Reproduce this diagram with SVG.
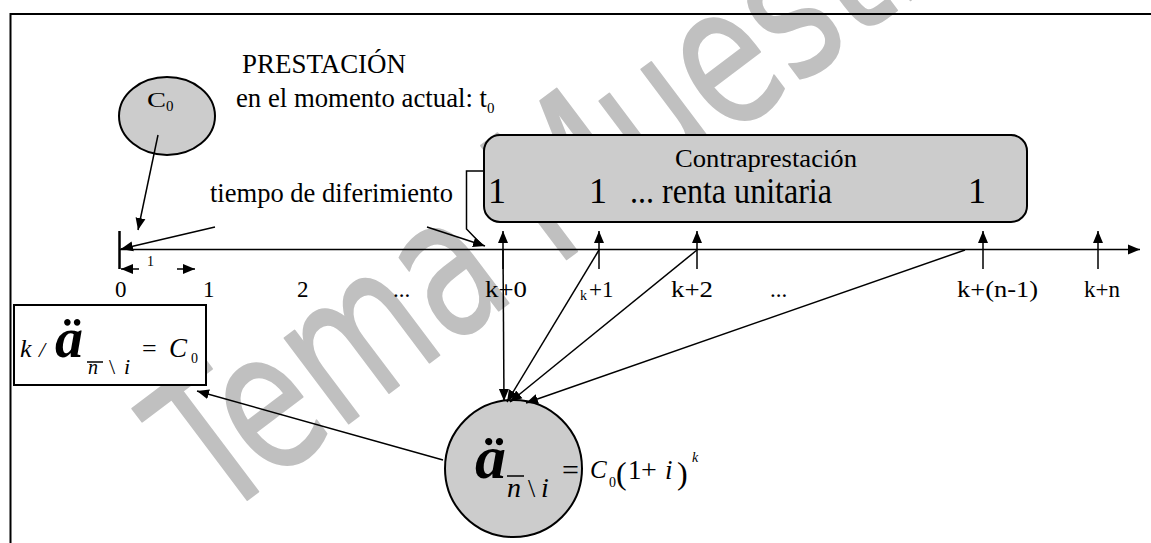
<svg xmlns="http://www.w3.org/2000/svg" width="1151" height="543" viewBox="0 0 1151 543">
<style>
.t{font-family:"Liberation Serif","Times New Roman",serif;fill:#000}
.it{font-family:"Liberation Serif","Times New Roman",serif;font-style:italic;fill:#000}
.bi{font-family:"Liberation Serif","Times New Roman",serif;font-style:italic;font-weight:bold;fill:#000}
.ln{stroke:#000;stroke-width:1.5;fill:none}
.ar{stroke:#000;stroke-width:1.5;fill:none;marker-end:url(#ah)}
.node{fill:#cccccc;stroke:#000;stroke-width:2}
</style>
<defs>
<marker id="ah" markerUnits="userSpaceOnUse" markerWidth="14" markerHeight="12" refX="12" refY="5" orient="auto" viewBox="0 0 14 10">
<path d="M0,0 L12,5 L0,10 z" fill="#000"/>
</marker>
</defs>
<rect width="1151" height="543" fill="#fff"/>
<g id="watermark">
<text x="0" y="0" transform="translate(218,522) rotate(-37)" font-family="DejaVu Sans" font-size="195" textLength="1000" lengthAdjust="spacingAndGlyphs" fill="#c0c0c0" stroke="#c0c0c0" stroke-width="2" stroke-linejoin="round">Tema Muestra</text>
</g>
<g id="frame">
<path d="M10.5,543 V14 H1151" fill="none" stroke="#000" stroke-width="2"/>
</g>
<g id="prestacion">
<text class="t" x="242" y="73" font-size="26.5" textLength="164" lengthAdjust="spacingAndGlyphs">PRESTACIÓN</text>
<text class="t" x="236" y="107" font-size="26.5" textLength="251" lengthAdjust="spacingAndGlyphs">en el momento actual: t</text>
<text class="t" x="487" y="113" font-size="15">0</text>
</g>
<g id="c0">
<ellipse class="node" cx="167" cy="116" rx="48" ry="39" stroke-width="1.5"/>
<text class="t" x="147" y="107" font-size="22" textLength="19" lengthAdjust="spacingAndGlyphs">C</text>
<text class="t" x="166" y="111" font-size="15">0</text>
</g>
<g id="contraprestacion">
<rect class="node" x="484" y="135" width="543" height="87" rx="16" ry="16"/>
<text class="t" x="675" y="167" font-size="25" textLength="182" lengthAdjust="spacingAndGlyphs">Contraprestación</text>
<text class="t" x="488" y="203" font-size="36">1</text>
<text class="t" x="589" y="203" font-size="36">1</text>
<text class="t" x="630" y="203" font-size="35" textLength="202" lengthAdjust="spacingAndGlyphs">... renta unitaria</text>
<text class="t" x="968" y="203" font-size="36">1</text>
</g>
<g id="diferimiento">
<text class="t" x="210" y="202" font-size="26.5" textLength="243" lengthAdjust="spacingAndGlyphs">tiempo de diferimiento</text>
</g>
<g id="axis-labels">
<text class="t" x="115" y="297" font-size="23">0</text>
<text class="t" x="203" y="297" font-size="23">1</text>
<text class="t" x="297" y="297" font-size="23">2</text>
<text class="t" x="393" y="297" font-size="23">...</text>
<text class="t" x="485" y="297" font-size="23" textLength="42" lengthAdjust="spacingAndGlyphs">k+0</text>
<text class="t" x="580" y="300" font-size="14">k</text>
<text class="t" x="589" y="297" font-size="23">+1</text>
<text class="t" x="671" y="297" font-size="23" textLength="42" lengthAdjust="spacingAndGlyphs">k+2</text>
<text class="t" x="770" y="297" font-size="23">...</text>
<text class="t" x="957" y="297" font-size="23" textLength="81" lengthAdjust="spacingAndGlyphs">k+(n-1)</text>
<text class="t" x="1084" y="297" font-size="23" textLength="36" lengthAdjust="spacingAndGlyphs">k+n</text>
<text class="t" x="147" y="266" font-size="14">1</text>
</g>
<g id="formula-box">
<rect x="14" y="305" width="192" height="80" fill="#fff" stroke="#000" stroke-width="2"/>
<text class="it" x="20" y="357" font-size="26">k</text>
<text class="it" x="39" y="357" font-size="22">/</text>
<text class="bi" x="55" y="357" font-size="56">ä</text>
<line x1="87" y1="362" x2="103" y2="362" stroke="#000" stroke-width="1.5"/>
<text class="it" x="88" y="374" font-size="20">n</text>
<text class="t" x="109" y="374" font-size="22">\</text>
<text class="it" x="124" y="374" font-size="22">i</text>
<text class="t" x="142" y="357" font-size="26">=</text>
<text class="it" x="169" y="357" font-size="27">C</text>
<text class="t" x="191" y="363" font-size="14">0</text>
</g>
<g id="valor-actual">
<circle class="node" cx="513.5" cy="468.5" r="68.5"/>
<text class="bi" x="475" y="478" font-size="62">ä</text>
<line x1="507" y1="476" x2="524" y2="476" stroke="#000" stroke-width="1.5"/>
<text class="it" x="507" y="497" font-size="28">n</text>
<text class="t" x="528" y="497" font-size="26">\</text>
<text class="it" x="541" y="497" font-size="28">i</text>
<text class="t" x="562" y="480" font-size="30">=</text>
<text class="it" x="590" y="478" font-size="25">C</text>
<text class="t" x="609" y="487" font-size="14">0</text>
<text class="t" x="616" y="484" font-size="32">(</text>
<text class="t" x="628" y="479" font-size="27">1</text>
<text class="t" x="641" y="479" font-size="28">+</text>
<text class="it" x="665" y="479" font-size="27">i</text>
<text class="t" x="677" y="484" font-size="32">)</text>
<text class="it" x="692" y="462" font-size="14">k</text>
</g>
<g id="connectors">
<line class="ar" x1="120" y1="249.5" x2="1140" y2="249.5"/>
<line x1="119.5" y1="231" x2="119.5" y2="269" stroke="#000" stroke-width="2.5"/>
<line class="ar" x1="139" y1="269" x2="121" y2="269" stroke-width="2"/>
<line class="ar" x1="177" y1="269" x2="195" y2="269" stroke-width="2"/>
<line class="ar" x1="158" y1="135" x2="138" y2="230"/>
<line class="ar" x1="215" y1="227" x2="121" y2="249"/>
<line class="ar" x1="427" y1="227" x2="485" y2="246"/>
<path class="ln" d="M484,171 H466.5 V229 L482,245" stroke-width="2"/>
<line class="ar" x1="503" y1="269" x2="503" y2="231"/>
<line class="ar" x1="599" y1="269" x2="599" y2="231"/>
<line class="ar" x1="697" y1="269" x2="697" y2="231"/>
<line class="ar" x1="983" y1="269" x2="983" y2="231"/>
<line class="ar" x1="1098" y1="269" x2="1098" y2="231"/>
<line class="ar" x1="503" y1="250" x2="504" y2="401"/>
<line class="ar" x1="599" y1="250" x2="507" y2="402"/>
<line class="ar" x1="697" y1="250" x2="510" y2="402"/>
<line class="ar" x1="965" y1="250" x2="526" y2="403"/>
<line class="ar" x1="443" y1="460" x2="197" y2="391"/>
</g>
</svg>
